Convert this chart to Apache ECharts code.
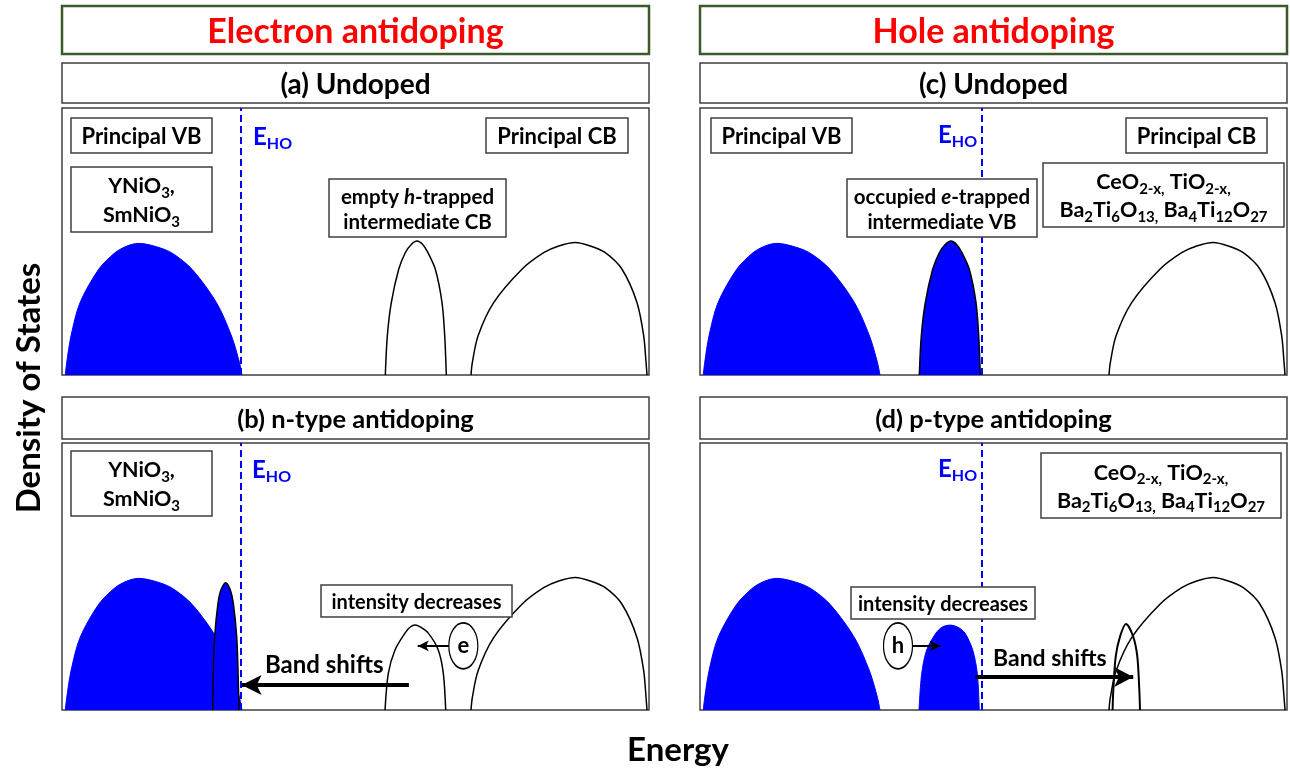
<!DOCTYPE html>
<html><head><meta charset="utf-8">
<script src="https://cdn.jsdelivr.net/npm/echarts@6/dist/echarts.min.js"></script>
<style>html,body{margin:0;padding:0;background:#fff}#c{width:1290px;height:771px}</style>
</head><body><div id="c"></div>
<script>
// ---------------- data (energy in arbitrary units 0-100 per panel, DOS 0-100) ----------------
const VB_X = [0.56, 0.8, 1.53, 3.07, 6.25, 9.03, 11.07, 13.07, 15.67, 18.65, 22.15, 26.32, 28.88, 30.24, 30.66];
const VB_Y = [0, 4.6, 14.6, 27.1, 39.6, 45.8, 48.3, 49.3, 48.3, 45.8, 39.6, 27.1, 14.6, 4.6, 0];
const CB_X = [69.68, 69.9, 70.87, 73.54, 78.36, 82.06, 84.62, 87.44, 90.0, 92.55, 95.4, 97.96, 99.1, 99.5, 99.66];
const CB_Y = [0, 4.6, 14.6, 27.1, 39.6, 45.8, 48.3, 49.6, 48.3, 45.8, 39.6, 27.1, 14.6, 4.6, 0];
// (a) empty h-trapped intermediate CB
const INT_A_X = [55.08, 55.42, 56.1, 57.36, 58.48, 59.5, 60.48, 61.45, 62.35, 63.6, 64.74, 65.2, 65.47];
const INT_A_Y = [0, 14.6, 27.1, 39.6, 45.8, 48.9, 50.2, 48.9, 45.8, 39.6, 27.1, 14.6, 0];
// (b) shifted occupied band and reduced intermediate CB
const NB_X = [25.67, 25.78, 26.01, 26.58, 27.09, 27.89, 28.67, 29.18, 29.76, 29.98, 30.15];
const NB_Y = [0, 15, 27.5, 40, 45, 47.7, 45, 40, 27.5, 15, 0];
const INT_B_X = [55.03, 55.59, 56.73, 58.43, 59.28, 60.14, 61.1, 62.4, 64.1, 64.96, 65.37];
const INT_B_Y = [0, 13.7, 22.5, 28.8, 31.0, 31.8, 31.0, 28.8, 22.5, 13.7, 0];
// (c) occupied e-trapped intermediate VB
const INT_C_X = [37.36, 37.7, 38.38, 39.64, 40.76, 41.78, 42.76, 43.73, 44.63, 45.88, 47.02, 47.48, 47.75];
const INT_C_Y = [0, 14.6, 27.1, 39.6, 45.8, 48.9, 50.2, 48.9, 45.8, 39.6, 27.1, 14.6, 0];
// (d) reduced intermediate VB and shifted empty band
const INT_D_X = [37.31, 37.77, 38.62, 40.2, 41.23, 42.59, 43.95, 45.14, 46.46, 47.24, 47.58];
const INT_D_Y = [0, 13.7, 22.5, 28.8, 31.0, 31.8, 31.0, 28.8, 22.5, 13.7, 0];
const SB_D_X = [70.29, 70.41, 70.82, 71.55, 72.57, 73.8, 74.5, 74.84, 74.96];
const SB_D_Y = [0, 7.5, 20, 27.5, 32.2, 27.5, 20, 7.5, 0];
// E_HO positions
const EHO_LEFT = 30.45;
const EHO_RIGHT = 48.0;
// arrows: [tail, tip]
const SHIFT_B = [[59.1, 9.4], [30.6, 9.4]];
const PUSH_B = [[66.0, 24.0], [60.6, 24.0]];
const SHIFT_D = [[46.9, 12.4], [73.8, 12.4]];
const PUSH_D = [[35.9, 24.0], [41.0, 24.0]];
// carriers
const E_CARRIER = [68.37, 24.0];
const H_CARRIER = [33.73, 24.0];

// ---------------- styling / layout ----------------
const FF = "Lato, 'Open Sans', sans-serif";
const BLUE = '#0000ff';
const FRAME = '#3f3f3f';
const GRIDS = [
  {left: 62, top: 108, width: 587, height: 267},
  {left: 62, top: 443, width: 587, height: 267},
  {left: 700, top: 108, width: 587, height: 267},
  {left: 700, top: 443, width: 587, height: 267}
];
const pts = (xs, ys) => xs.map((x, i) => [x, ys[i]]);

function band(g, xs, ys, o) {
  o = o || {};
  const s = {
    type: 'line', xAxisIndex: g, yAxisIndex: g, data: pts(xs, ys), smooth: 0.3,
    showSymbol: false, symbol: 'none', silent: true, animation: false,
    lineStyle: {color: o.line || '#000', width: o.lw == null ? 1.5 : o.lw},
    z: o.z || 2
  };
  if (o.fill) s.areaStyle = {color: o.fill, opacity: 1};
  if (o.eho != null) s.markLine = {
    silent: true, symbol: 'none', animation: false, label: {show: false},
    lineStyle: {color: BLUE, type: [7, 4], width: 2},
    data: [{xAxis: o.eho}]
  };
  return s;
}
function arrow(g, seg, width, head) {
  return {
    type: 'lines', coordinateSystem: 'cartesian2d', xAxisIndex: g, yAxisIndex: g,
    silent: true, animation: false, z: 6,
    symbol: ['none', 'arrow'], symbolSize: [1, head],
    lineStyle: {color: '#000', width: width, opacity: 1, curveness: 0},
    data: [{coords: [seg[0], seg[1]]}]
  };
}
function carrier(g, pos, txt) {
  return {
    type: 'scatter', xAxisIndex: g, yAxisIndex: g, silent: true, animation: false, z: 7,
    symbol: 'path://M0,50A50,50,0,1,1,100,50A50,50,0,1,1,0,50Z', symbolSize: [29, 46],
    itemStyle: {color: '#fff', borderColor: '#000', borderWidth: 1.5, opacity: 1},
    label: {show: true, position: 'inside', formatter: txt, color: '#000', fontSize: 22, fontWeight: 'bold',
            fontFamily: FF, textBorderWidth: 0, textBorderColor: 'transparent'},
    data: [pos]
  };
}

function ts(text, size, lh, color, align) {
  const sub = Math.round(size * 0.68);
  return {
    text: text, fontFamily: FF, fontSize: size, fontWeight: 'bold', fill: color, lineHeight: lh,
    align: align || 'center', verticalAlign: 'middle',
    rich: {
      s: {fontFamily: FF, fontSize: sub, fontWeight: 'bold', fill: color, lineHeight: sub, verticalAlign: 'bottom'},
      i: {fontFamily: FF, fontSize: size, fontWeight: 'bold', fontStyle: 'italic', fill: color, lineHeight: lh}
    }
  };
}
function box(x, y, w, h, text, size, lh, o) {
  o = o || {};
  return {
    type: 'group', children: [
      {type: 'rect', z: 100, shape: {x: x, y: y, width: w, height: h},
       style: {fill: '#fff', stroke: o.stroke || FRAME, lineWidth: o.lw || 1.5}},
      {type: 'text', z: 101, x: x + w / 2, y: y + h / 2 + (o.dy || 1.5),
       style: ts(text, size, lh, o.color || '#000')}
    ]
  };
}
function label(x, y, text, size, lh, color, rot) {
  return {type: 'text', z: 102, x: x, y: y, rotation: rot || 0, style: ts(text, size, lh, color, 'left')};
}
function clabel(x, y, text, size, color, rot) {
  return {type: 'text', z: 102, x: x, y: y, rotation: rot || 0, style: ts(text, size, size + 4, color, 'center')};
}

const graphics = [
  // headers
  box(62, 6, 587, 48, 'Electron antidoping', 34, 38, {stroke: '#3b5a2b', lw: 2.5, color: '#ff0000', dy: 2}),
  box(700, 6, 587, 48, 'Hole antidoping', 34, 38, {stroke: '#3b5a2b', lw: 2.5, color: '#ff0000', dy: 2}),
  // panel titles
  box(62, 63, 587, 40, '(a) Undoped', 28, 30),
  box(700, 63, 587, 40, '(c) Undoped', 28, 30),
  box(62, 397, 587, 42, '(b) n-type antidoping', 25.5, 30),
  box(700, 397, 587, 42, '(d) p-type antidoping', 25.5, 30),
  // (a)
  box(71, 118, 141, 35, 'Principal VB', 22, 26),
  box(71, 167, 141, 65, 'YNiO{s|3},\nSmNiO{s|3}', 21.5, 29),
  box(329, 179, 177, 58, 'empty {i|h}-trapped\nintermediate CB', 20.5, 25),
  box(486, 118, 142, 35, 'Principal CB', 22, 26),
  label(253, 137, 'E{s|HO}', 24, 30, BLUE),
  // (c)
  box(711, 118, 141, 35, 'Principal VB', 22, 26),
  box(847, 179, 190, 58, 'occupied {i|e}-trapped\nintermediate VB', 20.5, 25),
  box(1043, 163, 241, 64, 'CeO{s|2-x,} TiO{s|2-x,}\nBa{s|2}Ti{s|6}O{s|13,} Ba{s|4}Ti{s|12}O{s|27}', 21.5, 28),
  box(1126, 118, 141, 35, 'Principal CB', 22, 26),
  label(938, 135, 'E{s|HO}', 24, 30, BLUE),
  // (b)
  box(71, 451, 141, 65, 'YNiO{s|3},\nSmNiO{s|3}', 21.5, 29),
  box(321, 585, 191, 32, 'intensity decreases', 20, 25),
  label(252, 470, 'E{s|HO}', 24, 30, BLUE),
  label(265, 665, 'Band shifts', 24, 28, '#000'),
  // (d)
  box(1041, 453, 240, 65, 'CeO{s|2-x,} TiO{s|2-x,}\nBa{s|2}Ti{s|6}O{s|13,} Ba{s|4}Ti{s|12}O{s|27}', 21.5, 28),
  box(851, 587, 184, 32, 'intensity decreases', 20, 25),
  label(938, 469, 'E{s|HO}', 24, 30, BLUE),
  label(993, 659, 'Band shifts', 23, 28, '#000'),
  // axis titles
  clabel(29, 388, 'Density of States', 33, '#000', Math.PI / 2),
  clabel(678, 750, 'Energy', 33, '#000')
];

const series = [
  // (a)
  band(0, VB_X, VB_Y, {fill: BLUE, line: BLUE, lw: 1, eho: EHO_LEFT}),
  band(0, INT_A_X, INT_A_Y),
  band(0, CB_X, CB_Y),
  // (b)
  band(1, VB_X, VB_Y, {fill: BLUE, line: BLUE, lw: 1, eho: EHO_LEFT}),
  band(1, NB_X, NB_Y, {fill: BLUE, z: 3}),
  band(1, INT_B_X, INT_B_Y),
  band(1, CB_X, CB_Y),
  arrow(1, SHIFT_B, 4, [15, 20]),
  arrow(1, PUSH_B, 2, [8, 11]),
  carrier(1, E_CARRIER, 'e'),
  // (c)
  band(2, VB_X, VB_Y, {fill: BLUE, line: BLUE, lw: 1, eho: EHO_RIGHT}),
  band(2, INT_C_X, INT_C_Y, {fill: BLUE, z: 3}),
  band(2, CB_X, CB_Y),
  // (d)
  band(3, VB_X, VB_Y, {fill: BLUE, line: BLUE, lw: 1, eho: EHO_RIGHT}),
  band(3, INT_D_X, INT_D_Y, {fill: BLUE, line: BLUE, lw: 1}),
  band(3, CB_X, CB_Y),
  band(3, SB_D_X, SB_D_Y, {z: 3, lw: 2}),
  arrow(3, SHIFT_D, 4, [15, 19]),
  arrow(3, PUSH_D, 2, [8, 11]),
  carrier(3, H_CARRIER, 'h')
];

const chart = echarts.init(document.getElementById('c'), null, {renderer: 'canvas'});
chart.setOption({
  animation: false,
  backgroundColor: '#fff',
  grid: GRIDS.map(g => Object.assign({show: true, borderColor: FRAME, borderWidth: 1.5, backgroundColor: 'transparent'}, g)),
  xAxis: GRIDS.map((g, i) => ({type: 'value', gridIndex: i, min: 0, max: 100, show: false})),
  yAxis: GRIDS.map((g, i) => ({type: 'value', gridIndex: i, min: 0, max: 100, show: false})),
  series: series,
  graphic: graphics
});
</script>
</body></html>
